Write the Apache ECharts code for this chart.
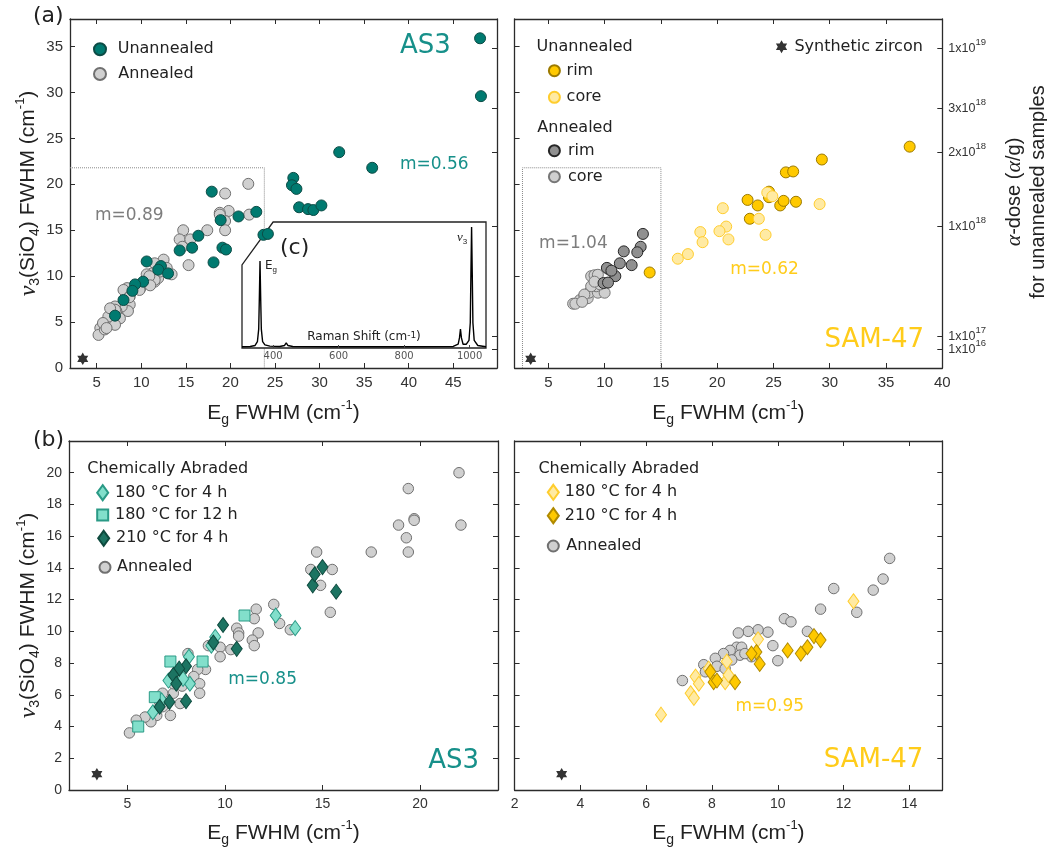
<!DOCTYPE html>
<html>
<head>
<meta charset="utf-8">
<script src="https://cdn.jsdelivr.net/npm/echarts@6.0.0/dist/echarts.min.js"></script>
<style>
  html, body { margin: 0; padding: 0; background: #fff; }
  #chart { width: 1047px; height: 851px; }
</style>
</head>
<body>
<div id="chart"></div>
<script>
// ---- (a) AS3 : Eg FWHM vs v3 FWHM
var as3Unannealed = [[48.0,35.9],[48.1,29.6],[32.2,23.5],[35.9,21.8],[27.05,20.7],[26.9,19.9],[27.4,19.5],[27.7,17.5],[28.7,17.3],[29.3,17.2],[30.2,17.7],[22.9,17.0],[20.9,16.5],[17.9,19.2],[18.9,16.1],[16.4,14.4],[14.3,12.8],[15.7,13.1],[19.1,13.1],[19.5,12.9],[18.1,11.5],[23.7,14.5],[24.2,14.6],[10.6,11.6],[12.2,11.1],[11.9,10.7],[13.0,10.3],[10.2,9.4],[9.3,9.1],[9.0,8.4],[8.0,7.4],[7.05,5.7]];
var as3Annealed = [[22.0,20.05],[19.4,19.0],[19.8,17.1],[18.8,16.9],[22.1,16.7],[19.4,16.0],[19.4,15.0],[17.4,15.0],[14.7,15.0],[14.3,14.0],[15.5,14.0],[14.6,13.2],[15.3,11.2],[12.5,11.8],[11.5,11.4],[11.2,10.3],[11.5,9.4],[10.6,10.2],[13.4,10.2],[10.4,9.25],[9.9,8.7],[8.4,8.7],[8.0,8.5],[8.7,7.8],[8.7,6.9],[8.5,6.2],[7.8,6.7],[7.05,6.7],[7.2,6.2],[6.9,4.9],[6.3,4.7],[5.7,4.5],[5.4,4.35],[5.2,3.6],[5.9,4.2],[7.6,5.4],[11.9,9.8],[12.85,10.9],[12.1,10.5],[18.8,16.7],[11.5,9.6],[9.4,9.0],[8.65,7.7],[7.05,6.35],[7.05,4.7],[6.3,5.6],[6.5,6.5],[5.7,4.9],[6.1,4.35],[9.8,8.5],[10.9,10.0],[11.0,9.0]];

// ---- (a) SAM-47
var samUnannRim = [[37.1,24.1],[29.3,22.7],[26.1,21.3],[26.75,21.4],[22.7,18.3],[23.6,17.7],[24.6,19.2],[24.6,18.6],[25.6,17.7],[25.9,18.2],[27.0,18.1],[22.9,16.25],[14.0,10.4]];
var samUnannCore = [[29.1,17.85],[24.45,19.1],[24.9,18.7],[23.7,16.25],[24.3,14.5],[20.5,17.4],[20.8,15.4],[20.2,14.9],[21.0,14.0],[18.5,14.8],[18.7,13.7],[17.4,12.4],[16.5,11.9]];
var samAnnRim = [[13.4,14.6],[13.2,13.2],[12.9,12.6],[11.7,12.7],[11.35,11.4],[12.4,11.2],[10.2,10.9],[10.95,10.0],[9.9,9.25],[10.6,10.6],[10.3,9.3]];
var samAnnCore = [[7.2,7.0],[7.8,7.4],[8.2,7.9],[8.5,7.6],[8.6,8.2],[9.4,8.2],[10.0,8.2],[9.25,8.9],[8.8,8.9],[8.8,10.0],[9.1,10.1],[9.4,10.15],[10.4,10.7],[9.6,9.1],[8.2,8.0],[9.1,9.4],[7.4,7.0],[8.0,7.2]];

// ---- (b) chemically abraded AS3
var as3CaAnnealed = [[22.0,20.0],[22.1,16.7],[19.4,19.0],[19.7,17.1],[19.7,17.0],[18.9,16.7],[19.3,15.9],[19.4,15.0],[17.5,15.0],[14.7,15.0],[14.4,13.9],[15.5,13.9],[14.9,12.9],[15.4,11.2],[12.5,11.7],[12.8,10.5],[13.35,10.1],[11.6,11.4],[11.5,10.8],[11.7,9.9],[11.4,9.45],[11.5,9.1],[10.6,10.2],[10.7,9.9],[10.7,9.7],[10.3,8.85],[9.75,9.0],[9.15,9.1],[9.75,8.4],[8.1,8.6],[9.0,7.6],[8.6,7.6],[8.4,7.15],[8.7,6.7],[8.7,6.1],[7.8,6.55],[7.35,6.1],[6.8,6.1],[7.7,5.45],[7.2,4.7],[6.5,4.7],[6.2,4.3],[5.9,4.6],[5.45,4.4],[5.1,3.6],[6.8,5.25],[7.35,6.7],[6.65,5.55]];
var as3Ca180x4 = [[12.6,11.0],[13.6,10.2],[9.5,9.65],[9.3,9.1],[8.15,8.4],[7.1,6.9],[8.2,6.7],[7.85,7.0],[6.3,4.9],[6.75,5.65]];
var as3Ca180x12 = [[11.0,11.0],[7.2,8.1],[8.85,8.1],[6.4,5.85],[5.55,4.0]];
var as3Ca210x4 = [[14.5,12.9],[14.6,13.6],[15.0,14.05],[15.7,12.5],[9.9,10.4],[10.6,8.9],[9.4,9.3],[8.0,7.8],[7.65,7.65],[7.35,7.25],[7.5,6.7],[8.0,5.6],[7.15,5.55],[6.65,5.25]];

// ---- (b) chemically abraded SAM-47
var samCaAnnealed = [[13.4,14.6],[13.2,13.3],[12.9,12.6],[11.7,12.7],[12.4,11.2],[11.3,11.4],[10.2,10.8],[10.4,10.6],[10.9,10.0],[9.7,9.95],[9.4,10.1],[9.1,10.0],[8.8,9.9],[9.85,9.1],[10.0,8.15],[8.75,9.0],[8.9,9.0],[8.55,8.8],[8.35,8.6],[8.85,8.5],[9.2,8.4],[8.6,8.2],[8.1,8.3],[8.15,7.8],[7.75,7.9],[8.4,7.65],[7.1,6.9],[7.8,7.45],[9.0,8.6]];
var samCa180x4 = [[12.3,11.9],[9.4,9.5],[8.45,8.1],[7.9,7.65],[7.5,7.15],[7.6,6.7],[7.35,6.1],[7.45,5.8],[8.4,6.8],[8.5,7.25],[6.45,4.75]];
var samCa210x4 = [[11.1,9.7],[11.3,9.45],[10.9,9.0],[10.7,8.6],[10.3,8.8],[9.45,7.95],[9.35,8.7],[9.2,8.6],[7.95,7.45],[8.05,6.8],[8.15,6.9],[8.7,6.8]];

var syntheticZircon = [[3.43,1.0]];

// dotted boxes: extent of the (b) panels
var zoomBoxAS3 = [[2,21.8],[23.8,21.8],[23.8,0]];
var zoomBoxSAM = [[2.7,0],[2.7,21.8],[15,21.8],[15,0]];

// ---- (c) Raman spectrum
var ramanShift = [305,330,345,352,356,358,360,362,364,368,375,390,420,435,440,445,460,600,800,950,965,969,972,975,980,990,998,1002,1004,1006,1008,1010,1014,1025,1050];
var intensity  = [0.01,0.012,0.02,0.05,0.15,0.4,0.69,0.4,0.15,0.05,0.025,0.015,0.012,0.02,0.04,0.02,0.012,0.01,0.01,0.012,0.03,0.08,0.15,0.08,0.03,0.03,0.06,0.2,0.6,0.96,0.6,0.2,0.06,0.02,0.01];
var insetFrame = [[305,0],[305,0.66],[400,1],[1050,1],[1050,0]];

// ---- ticks
var ticksA = [0,5,10,15,20,25,30,35];
var ticksAS3x = [5,10,15,20,25,30,35,40,45];
var ticksSAMx = [5,10,15,20,25,30,35,40];
var ticksB = [0,2,4,6,8,10,12,14,16,18,20];
var ticksAS3bx = [5,10,15,20];
var ticksSAMbx = [2,4,6,8,10,12,14];
var ticksRaman = [400,600,800,1000];
// alpha-dose ticks placed on the v3 FWHM scale
var doseTickPos = [34.82,28.25,23.5,15.41,3.44,1.99];
var doseTickLabels = ['1x10{s|19}','3x10{s|18}','2x10{s|18}','1x10{s|18}','1x10{s|17}','1x10{s|16}'];

var SANS = 'Liberation Sans, Arial, sans-serif';
var VERD = 'DejaVu Sans, Verdana, sans-serif';
var AX = '#2b2b2b';
var teal = '#007a70', tealText = '#17908a', gold = '#ffc900', goldText = '#ffcc1a', grayText = '#7d7d7d';
var starPath = 'path://M0,-10L2.887,-5L8.66,-5L5.774,0L8.66,5L2.887,5L0,10L-2.887,5L-8.66,5L-5.774,0L-8.66,-5L-2.887,-5Z';

var labelOf = {
  'as3 un': 'Unannealed', 'as3 an': 'Annealed',
  'sam un rim': 'rim', 'sam un core': 'core', 'sam an rim': 'rim', 'sam an core': 'core',
  'Synthetic zircon': 'Synthetic zircon',
  'as3 180x4': '180 °C for 4 h', 'as3 180x12': '180 °C for 12 h', 'as3 210x4': '210 °C for 4 h', 'as3 ca an': 'Annealed',
  'sam 180x4': '180 °C for 4 h', 'sam 210x4': '210 °C for 4 h', 'sam ca an': 'Annealed'
};

function plain(v) { return String(v); }

function axis(grid, pos, min, max, ticks, showLabel, fontSize) {
  return {
    type: 'value', gridIndex: grid, position: pos, min: min, max: max,
    axisLine: { show: true, onZero: false, lineStyle: { color: AX, width: 1.3 } },
    axisTick: { show: true, inside: true, length: 5, customValues: ticks, lineStyle: { color: AX, width: 1 } },
    axisLabel: { show: showLabel, customValues: ticks, color: '#333', fontFamily: SANS, fontSize: fontSize || 15, margin: 7,
      hideOverlap: false, showMinLabel: true, showMaxLabel: true, formatter: plain },
    splitLine: { show: false }
  };
}

var richName = {
  nu: { fontFamily: 'Liberation Serif, serif', fontStyle: 'italic', fontSize: 24, color: '#222' },
  sub: { fontFamily: SANS, fontSize: 14, verticalAlign: 'bottom', color: '#222' },
  sup: { fontFamily: SANS, fontSize: 13, verticalAlign: 'top', color: '#222' }
};
var xName = 'E{sub|g} FWHM (cm{sup|-1})';
var yName = '{nu|ν}{sub|3}(SiO{sub|4}) FWHM (cm{sup|-1})';
function named(ax, name, gap) {
  ax.name = name; ax.nameLocation = 'middle'; ax.nameGap = gap;
  ax.nameTextStyle = { fontFamily: SANS, fontSize: 21, color: '#222', lineHeight: 28, rich: richName };
  return ax;
}

// xAxis / yAxis index: panel p -> 2p (bottom/left) and 2p+1 (top/right); inset -> 8
var xAxes = [
  named(axis(0, 'bottom', 2, 49.9, ticksAS3x, true, 15), xName, 31),
  axis(0, 'top', 2, 49.9, ticksAS3x, false),
  named(axis(1, 'bottom', 2, 40, ticksSAMx, true, 15), xName, 31),
  axis(1, 'top', 2, 40, ticksSAMx, false),
  named(axis(2, 'bottom', 2, 24, ticksAS3bx, true, 14), xName, 29),
  axis(2, 'top', 2, 24, ticksAS3bx, false),
  named(axis(3, 'bottom', 2, 15, ticksSAMbx, true, 14), xName, 29),
  axis(3, 'top', 2, 15, ticksSAMbx, false),
  {
    type: 'value', gridIndex: 4, min: 305, max: 1050, z: 10,
    axisLine: { show: false },
    axisTick: { show: true, inside: true, length: 3, customValues: ticksRaman, lineStyle: { color: '#444' } },
    axisLabel: { show: true, customValues: ticksRaman, color: '#555', fontFamily: VERD, fontSize: 10, margin: 3,
      showMinLabel: true, showMaxLabel: true, formatter: plain },
    splitLine: { show: false },
    name: 'Raman Shift (cm{sup|-1})', nameLocation: 'middle', nameGap: -17,
    nameTextStyle: { fontFamily: VERD, fontSize: 12, color: '#222', rich: { sup: { fontSize: 9, verticalAlign: 'top', color: '#222' } } }
  }
];

function doseLabel(v) {
  var i = doseTickPos.indexOf(v);
  return i >= 0 ? doseTickLabels[i] : '';
}
function doseAxis(labelValues, withLine) {
  var ax = axis(1, 'right', 0, 38, doseTickPos, true, 12.5);
  ax.axisLabel.customValues = labelValues;
  ax.axisLabel.margin = 6;
  ax.axisLabel.lineHeight = 22;
  ax.axisLabel.rich = { s: { fontFamily: SANS, fontSize: 9.5, verticalAlign: 'top', color: '#333' } };
  ax.axisLabel.formatter = doseLabel;
  if (!withLine) { ax.axisLine.show = false; ax.axisTick.show = false; ax.offset = 0; }
  return ax;
}

var yAxes = [
  named(axis(0, 'left', 0, 38, ticksA, true, 15), yName, 25),
  axis(0, 'right', 0, 38, doseTickPos, false),
  axis(1, 'left', 0, 38, ticksA, false),
  doseAxis(doseTickPos.slice(0, 5), true),
  named(axis(2, 'left', 0, 22, ticksB, true, 14), yName, 25),
  axis(2, 'right', 0, 22, ticksB, false),
  axis(3, 'left', 0, 22, ticksB, false),
  axis(3, 'right', 0, 22, ticksB, false),
  { type: 'value', gridIndex: 4, min: 0, max: 1, show: false },
  // the 1x10^16 label overlaps 1x10^17, so it sits on its own axis
  doseAxis(doseTickPos.slice(5), false)
];

function scatter(name, panel, data, symbol, size, fill, edge) {
  return {
    type: 'scatter', name: name, xAxisIndex: 2 * panel, yAxisIndex: 2 * panel, data: data,
    symbol: symbol, symbolSize: size, z: 5, silent: true,
    itemStyle: { color: fill, borderColor: edge, borderWidth: 1, opacity: 1 },
    emphasis: { disabled: true }
  };
}
function star(name, panel) {
  var s = scatter(name, panel, syntheticZircon, starPath, [11, 12.5], '#333', '#333');
  s.itemStyle.borderWidth = 0;
  return s;
}
function dotted(panel, data) {
  return { type: 'line', xAxisIndex: 2 * panel, yAxisIndex: 2 * panel, data: data, symbol: 'none', z: 1, silent: true,
    lineStyle: { type: 'dotted', color: '#8a8a8a', width: 1 } };
}

var series = [
  dotted(0, zoomBoxAS3),
  dotted(1, zoomBoxSAM),
  {
    type: 'custom', xAxisIndex: 8, yAxisIndex: 8, data: [[305, 0]], z: 3, silent: true, clip: false,
    renderItem: function (params, api) {
      var pts = insetFrame.map(function (p) { return api.coord(p); });
      return { type: 'polygon', shape: { points: pts }, style: { fill: '#fff', stroke: '#222', lineWidth: 1.3 } };
    }
  },
  {
    type: 'line', xAxisIndex: 8, yAxisIndex: 8, z: 4, silent: true, symbol: 'none',
    data: ramanShift.map(function (x, i) { return [x, intensity[i]]; }),
    lineStyle: { color: '#000', width: 1.4 }
  },
  scatter('as3 an', 0, as3Annealed, 'circle', 11, '#d0d0d0', '#707070'),
  scatter('as3 un', 0, as3Unannealed, 'circle', 11, teal, '#0c4c46'),
  star('Synthetic zircon (a1)', 0),

  scatter('sam an core', 1, samAnnCore, 'circle', 11, '#cfcfcf', '#777'),
  scatter('sam an rim', 1, samAnnRim, 'circle', 11, '#909090', '#262626'),
  scatter('sam un rim', 1, samUnannRim, 'circle', 11, gold, '#9c7a00'),
  scatter('sam un core', 1, samUnannCore, 'circle', 11, '#ffeaa3', '#ffcd2e'),
  star('Synthetic zircon', 1),

  scatter('as3 ca an', 2, as3CaAnnealed, 'circle', 10.5, '#d0d0d0', '#707070'),
  scatter('as3 180x4', 2, as3Ca180x4, 'diamond', [11, 15], '#82dfcb', '#2a9a86'),
  scatter('as3 180x12', 2, as3Ca180x12, 'rect', 11, '#82dfcb', '#2a9a86'),
  scatter('as3 210x4', 2, as3Ca210x4, 'diamond', [11, 15], '#1c7462', '#0e4a3e'),
  star('Synthetic zircon (b1)', 2),

  scatter('sam ca an', 3, samCaAnnealed, 'circle', 10.5, '#d0d0d0', '#707070'),
  scatter('sam 180x4', 3, samCa180x4, 'diamond', [11, 15], '#ffeaa3', '#ffcd2e'),
  scatter('sam 210x4', 3, samCa210x4, 'diamond', [11, 15], gold, '#b08a00'),
  star('Synthetic zircon (b2)', 3)
];

function legendItem(name, cx, cy, w, h, textLeft) {
  return {
    data: [name], left: cx - w / 2, top: cy - 9, itemWidth: w, itemHeight: h, padding: 0,
    selectedMode: false, formatter: function (n) { return labelOf[n]; },
    textStyle: { fontFamily: VERD, fontSize: 16, color: '#222', lineHeight: 18,
      padding: [0, 0, 0, Math.max(0, textLeft - (cx + w / 2) - 5)] }
  };
}
var legends = [
  legendItem('as3 un', 99, 49.3, 12, 12, 116.7),
  legendItem('as3 an', 99, 74, 12, 12, 117.3),
  legendItem('sam un rim', 553.4, 70.7, 11, 11, 565.6),
  legendItem('sam un core', 553.4, 97.3, 11, 11, 565.6),
  legendItem('sam an rim', 553.4, 150.7, 11, 11, 567),
  legendItem('sam an core', 553.4, 176.7, 11, 11, 567),
  legendItem('Synthetic zircon', 781.9, 46.7, 12, 13, 794.8),
  legendItem('as3 180x4', 101.7, 492.7, 11, 15, 114),
  legendItem('as3 180x12', 101.7, 515, 11, 11, 114),
  legendItem('as3 210x4', 102.7, 538.3, 11, 15, 115),
  legendItem('as3 ca an', 104, 567.3, 11, 11, 116),
  legendItem('sam 180x4', 552.3, 492.3, 11, 15, 563.8),
  legendItem('sam 210x4', 552.3, 515.7, 11, 15, 563.8),
  legendItem('sam ca an', 552.3, 546, 11, 11, 565.2)
];

function txt(text, x, y, size, color, extra) {
  var st = { text: text, fontFamily: VERD, fontSize: size, fill: color, align: 'left', verticalAlign: 'middle' };
  if (extra) { for (var k in extra) st[k] = extra[k]; }
  return { type: 'text', x: x, y: y, z: 100, silent: true, style: st };
}
var graphics = [
  txt('(a)', 33, 16, 22, '#222'),
  txt('(b)', 33, 440, 22, '#222'),
  txt('(c)', 280, 248, 22, '#222'),
  txt('AS3', 400, 46, 26, tealText),
  txt('m=0.56', 400, 165, 17, tealText),
  txt('m=0.89', 95, 216, 17, grayText),
  txt('Unannealed', 536.6, 46.7, 16, '#222'),
  txt('Annealed', 537.3, 127.7, 16, '#222'),
  txt('SAM-47', 824.4, 340, 26, goldText),
  txt('m=1.04', 539.1, 243.3, 17, grayText),
  txt('m=0.62', 730.2, 269.3, 17, goldText),
  txt('Chemically Abraded', 87.3, 469.3, 16, '#222'),
  txt('m=0.85', 228.3, 680, 17, tealText),
  txt('AS3', 428.3, 761.7, 26, tealText),
  txt('Chemically Abraded', 538.4, 469.3, 16, '#222'),
  txt('m=0.95', 735.5, 706.7, 17, goldText),
  txt('SAM-47', 823.7, 760.7, 26, goldText),
  txt('E{s|g}', 265, 266, 12, '#222', { rich: { s: { fontSize: 8, verticalAlign: 'bottom', fill: '#222' } }, lineHeight: 16 }),
  txt('{i|ν}{s|3}', 457, 238, 12, '#222', { rich: { i: { fontFamily: 'Liberation Serif, serif', fontStyle: 'italic', fontSize: 13, fill: '#222' }, s: { fontSize: 8, verticalAlign: 'bottom', fill: '#222' } }, lineHeight: 16 }),
  {
    type: 'text', x: 1026, y: 192, rotation: Math.PI / 2, z: 100, silent: true,
    style: {
      text: '{a|α}-dose ({a|α}/g)\nfor unannealed samples', fontFamily: SANS, fontSize: 20, fill: '#222',
      align: 'center', verticalAlign: 'middle', lineHeight: 24,
      rich: { a: { fontFamily: 'Liberation Serif, serif', fontStyle: 'italic', fontSize: 22, fill: '#222' } }
    }
  }
];

var chart = echarts.init(document.getElementById('chart'), null, { renderer: 'canvas' });
chart.setOption({
  backgroundColor: '#fff',
  animation: false,
  grid: [
    { left: 70, top: 19, width: 427, height: 349, outerBoundsMode: 'none' },
    { left: 514.6, top: 19, width: 427.7, height: 349, outerBoundsMode: 'none' },
    { left: 69, top: 441, width: 429, height: 349, outerBoundsMode: 'none' },
    { left: 514.6, top: 441, width: 427.7, height: 349, outerBoundsMode: 'none' },
    { left: 242, top: 222, width: 244, height: 126, outerBoundsMode: 'none' }
  ],
  xAxis: xAxes,
  yAxis: yAxes,
  legend: legends,
  series: series,
  graphic: graphics
});
</script>
</body>
</html>
